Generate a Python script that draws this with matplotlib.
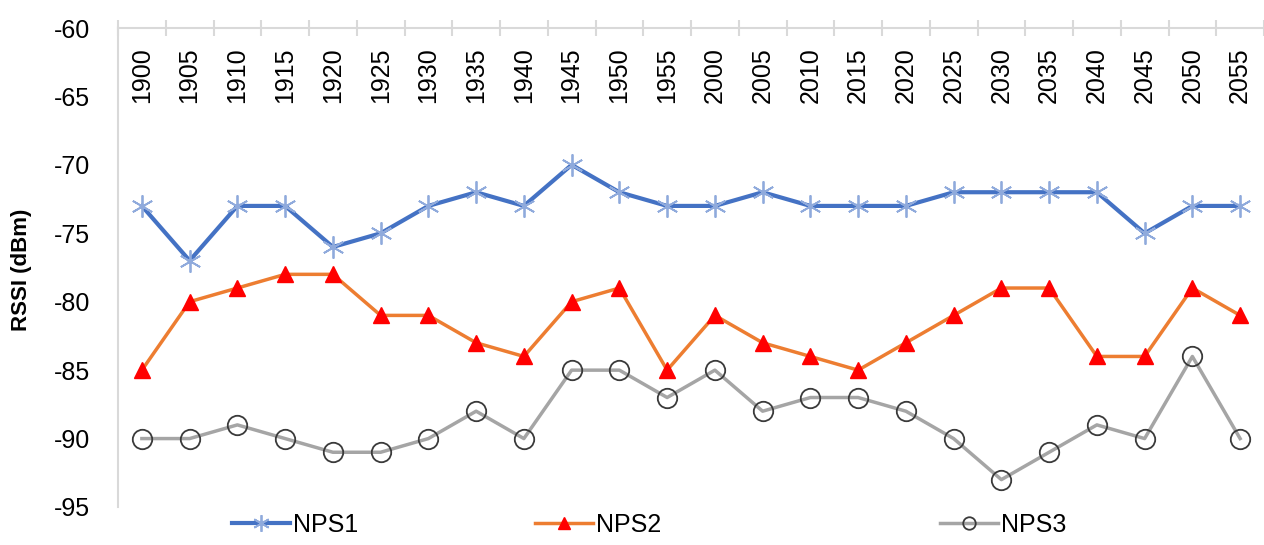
import numpy as np
import matplotlib.pyplot as plt
from matplotlib.lines import Line2D

# categories along the top axis
years = ['1900', '1905', '1910', '1915', '1920', '1925', '1930', '1935', '1940', '1945',
         '1950', '1955', '2000', '2005', '2010', '2015', '2020', '2025', '2030', '2035',
         '2040', '2045', '2050', '2055']

# RSSI readings (dBm)
nps1 = [-73, -77, -73, -73, -76, -75, -73, -72, -73, -70, -72, -73,
        -73, -72, -73, -73, -73, -72, -72, -72, -72, -75, -73, -73]
nps2 = [-85, -80, -79, -78, -78, -81, -81, -83, -84, -80, -79, -85,
        -81, -83, -84, -85, -83, -81, -79, -79, -84, -84, -79, -81]
nps3 = [-90, -90, -89, -90, -91, -91, -90, -88, -90, -85, -85, -87,
        -85, -88, -87, -87, -88, -90, -93, -91, -89, -90, -84, -90]

y_ticks = [-60, -65, -70, -75, -80, -85, -90, -95]

plt.rcParams['font.family'] = ['Liberation Sans', 'DejaVu Sans']
plt.rcParams['axes.unicode_minus'] = False

fig = plt.figure(figsize=(12.64, 5.45), dpi=100)
ax = fig.add_axes([118/1264, 1 - 507/545, 1 - 118/1264, (507 - 28)/545])

x = np.arange(len(years))

# series styles
s1 = dict(color='#4472c4', lw=3, marker=(6, 2, 0), ms=16, mec='#8faadc', mew=1.3, label='NPS1')
s2 = dict(color='#ed7d31', lw=2.5, marker='^', ms=11, mfc='red', mec='red', label='NPS2')
s3 = dict(color='#a5a5a5', lw=2.5, marker='o', ms=14, mfc='none', mec='#3a3a3a', mew=1.3, label='NPS3')

ax.plot(x, nps1, **s1)
ax.plot(x, nps2, **s2)
ax.plot(x, nps3, **s3)

ax.set_xlim(-0.5, len(years) - 0.5)
ax.set_ylim(-95, -60)

# y axis
ax.set_yticks(y_ticks)
ax.tick_params(axis='y', length=0, pad=20, labelsize=18)

# category axis on top, labels hanging below the line
ax.set_xticks(x)
ax.set_xticklabels(years, rotation=90)
ax.xaxis.set_ticks_position('top')
ax.tick_params(axis='x', which='major', top=True, bottom=False, labeltop=True,
               labelbottom=False, length=0, pad=-14, labelsize=18)
for lab in ax.get_xticklabels():
    lab.set_va('top')
ax.set_xticks(np.arange(-0.5, len(years)), minor=True)
ax.tick_params(axis='x', which='minor', top=True, bottom=False, direction='inout',
               length=12, width=1.5, color='#d9d9d9')

for side in ['right', 'bottom']:
    ax.spines[side].set_visible(False)
for side in ['top', 'left']:
    ax.spines[side].set_color('#d9d9d9')
    ax.spines[side].set_linewidth(1.5)

fig.text(22/1264, 1 - 270/545, 'RSSI (dBm)', rotation=90, fontsize=16,
         fontweight='bold', ha='center', va='center')

# legend entries spaced as in the original, with smaller markers
legend_pos = [232, 535, 940]
legend_ms = [12, 9, 9]
for style, xp, ms in zip([s1, s2, s3], legend_pos, legend_ms):
    handle = Line2D([], [], **dict(style, ms=ms))
    fig.legend(handles=[handle], loc='center left', bbox_to_anchor=(xp/1264, 1 - 525/545),
               frameon=False, fontsize=18, handlelength=2.3, handletextpad=0.15,
               borderpad=0, borderaxespad=0)

fig.savefig('out.png', dpi=100)
